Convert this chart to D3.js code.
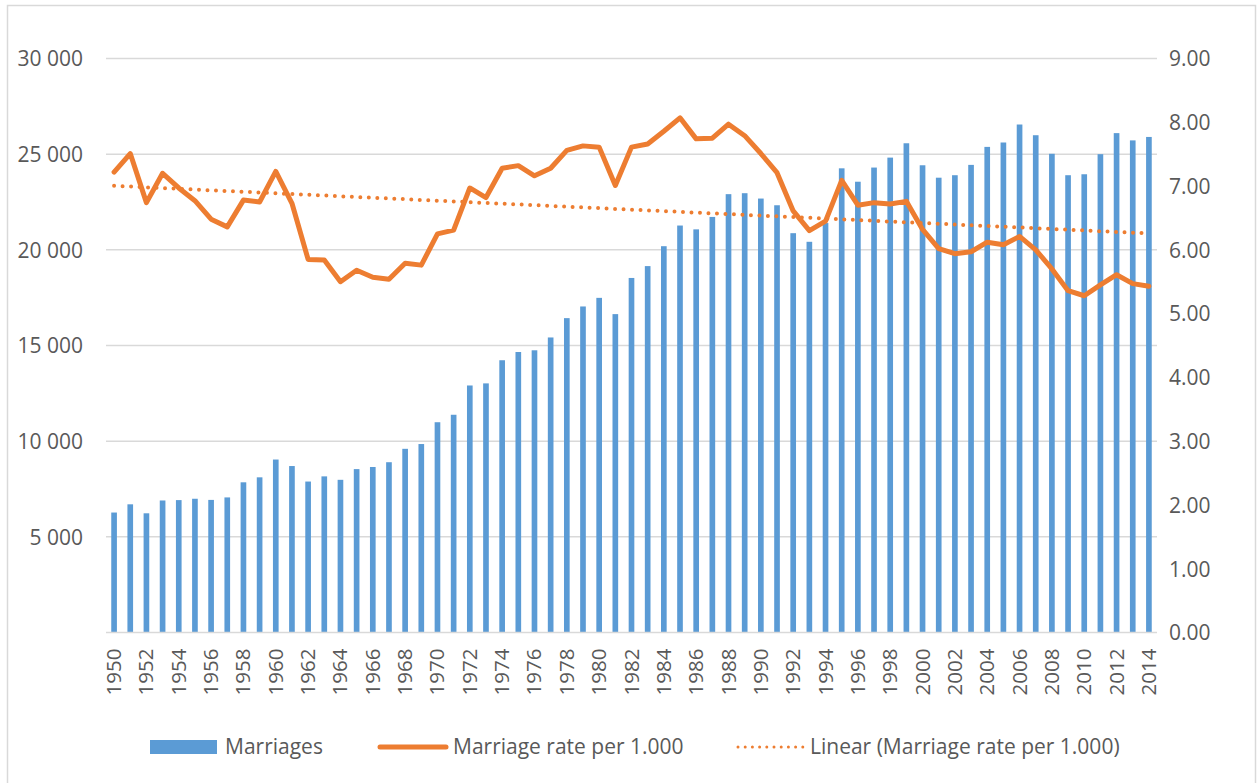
<!DOCTYPE html>
<html>
<head>
<meta charset="utf-8">
<script src="https://cdn.jsdelivr.net/npm/d3@7"></script>
<style>
  body { margin: 0; background: #fff; }
  svg { display: block; font-family: "Open Sans", "Liberation Sans", sans-serif; }
</style>
</head>
<body>
<svg id="chart" width="1259" height="783"></svg>
<script>
// years 1950..2014
const years = d3.range(1950, 2015);

// number of marriages per year
const marriages = [
  6270, 6700, 6230, 6900, 6920, 6990, 6930, 7060, 7850, 8110,
  9040, 8700, 7890, 8160, 7980, 8540, 8650, 8900, 9600, 9850,
  10990, 11380, 12910, 13020, 14230, 14660, 14750, 15420, 16430, 17040,
  17490, 16640, 18530, 19150, 20190, 21270, 21070, 21720, 22910, 22960,
  22680, 22330, 20870, 20420, 21400, 24260, 23560, 24300, 24820, 25570,
  24420, 23770, 23900, 24440, 25380, 25610, 26550, 25990, 25020, 23900,
  23950, 25000, 26100, 25720, 25900
];

// marriage rate per 1.000 inhabitants
const rate = [
  7.22, 7.51, 6.74, 7.20, 6.97, 6.77, 6.48, 6.36, 6.78, 6.75,
  7.23, 6.73, 5.85, 5.84, 5.50, 5.68, 5.57, 5.54, 5.79, 5.76,
  6.25, 6.31, 6.97, 6.82, 7.28, 7.32, 7.16, 7.28, 7.56, 7.63,
  7.61, 7.01, 7.61, 7.66, 7.86, 8.07, 7.74, 7.75, 7.97, 7.79,
  7.51, 7.21, 6.61, 6.30, 6.45, 7.09, 6.70, 6.74, 6.72, 6.76,
  6.32, 6.02, 5.94, 5.97, 6.12, 6.08, 6.21, 6.00, 5.70, 5.36,
  5.28, 5.45, 5.61, 5.47, 5.43
];

const leftTicks = [5000, 10000, 15000, 20000, 25000, 30000];
const rightTicks = [0, 1, 2, 3, 4, 5, 6, 7, 8, 9];

const blue = "#5b9bd5";
const orange = "#ed7d31";
const grid = "#d9d9d9";
const textCol = "#595959";

const svg = d3.select("#chart");

// outer frame
svg.append("rect")
  .attr("x", 7.5).attr("y", 5.5)
  .attr("width", 1248).attr("height", 780)
  .attr("fill", "none").attr("stroke", grid).attr("stroke-width", 1.5);

const plot = { left: 106, right: 1157, top: 58.5, bottom: 632.5 };

const x = d3.scaleBand()
  .domain(years)
  .range([plot.left, plot.right])
  .paddingInner(0.65)
  .paddingOuter(0.325);

const yL = d3.scaleLinear().domain([0, 30000]).range([plot.bottom, plot.top]);
const yR = d3.scaleLinear().domain([0, 9]).range([plot.bottom, plot.top]);

// gridlines
svg.append("g")
  .selectAll("line")
  .data(leftTicks)
  .join("line")
  .attr("x1", plot.left).attr("x2", plot.right)
  .attr("y1", d => yL(d)).attr("y2", d => yL(d))
  .attr("stroke", grid).attr("stroke-width", 1.5);

// left axis
const leftAxis = svg.append("g")
  .attr("transform", `translate(${plot.left - 23},0)`)
  .call(d3.axisLeft(yL).tickValues(leftTicks).tickSize(0)
    .tickFormat(d => d3.format(",")(d).replace(",", " ")));
leftAxis.select(".domain").remove();
leftAxis.selectAll("text").attr("fill", textCol).attr("font-size", 21)
  .attr("font-family", "Open Sans").attr("x", 0).attr("dy", "0.35em");

// right axis
const rightAxis = svg.append("g")
  .attr("transform", `translate(${plot.right + 12},0)`)
  .call(d3.axisRight(yR).tickValues(rightTicks).tickSize(0).tickFormat(d3.format(".2f")));
rightAxis.select(".domain").remove();
rightAxis.selectAll("text").attr("fill", textCol).attr("font-size", 21)
  .attr("font-family", "Open Sans").attr("x", 0).attr("dy", "0.35em");

// bars
svg.append("g")
  .selectAll("rect")
  .data(years)
  .join("rect")
  .attr("x", (d) => x(d))
  .attr("width", x.bandwidth())
  .attr("y", (d, i) => yL(marriages[i]))
  .attr("height", (d, i) => yL(0) - yL(marriages[i]))
  .attr("fill", blue);

// baseline
svg.append("line")
  .attr("x1", plot.left).attr("x2", plot.right)
  .attr("y1", plot.bottom).attr("y2", plot.bottom)
  .attr("stroke", grid).attr("stroke-width", 1.5);

// year labels (every second year)
svg.append("g")
  .selectAll("text")
  .data(years.filter(y => y % 2 === 0))
  .join("text")
  .attr("transform", d => `translate(${x(d) + x.bandwidth() / 2 + 7},${plot.bottom + 16}) rotate(-90)`)
  .attr("text-anchor", "end")
  .attr("fill", textCol)
  .attr("font-size", 20.5)
  .text(d => d);

const cx = d => x(d) + x.bandwidth() / 2;

// linear trendline (least squares on the rate series)
const n = years.length;
const mx = d3.mean(years), my = d3.mean(rate);
const slope = d3.sum(years, (yr, i) => (yr - mx) * (rate[i] - my)) /
              d3.sum(years, yr => (yr - mx) ** 2);
const icpt = my - slope * mx;
const trend = [years[0], years[n - 1]];

svg.append("path")
  .datum(trend)
  .attr("d", d3.line().x(cx).y(yr => yR(icpt + slope * yr)))
  .attr("fill", "none")
  .attr("stroke", orange)
  .attr("stroke-width", 4)
  .attr("stroke-linecap", "round")
  .attr("stroke-dasharray", "0 8.5");

// rate line
svg.append("path")
  .datum(years)
  .attr("d", d3.line().x(cx).y((d, i) => yR(rate[i])))
  .attr("fill", "none")
  .attr("stroke", orange)
  .attr("stroke-width", 5)
  .attr("stroke-linejoin", "round")
  .attr("stroke-linecap", "round");

// legend
const lg = svg.append("g").attr("font-size", 21).attr("fill", textCol);
const ly = 747;

lg.append("rect").attr("x", 150).attr("y", ly - 7).attr("width", 67).attr("height", 14).attr("fill", blue);
lg.append("text").attr("x", 225).attr("y", ly).attr("dy", "0.35em").text("Marriages");

lg.append("line").attr("x1", 380).attr("x2", 446).attr("y1", ly).attr("y2", ly)
  .attr("stroke", orange).attr("stroke-width", 5).attr("stroke-linecap", "round");
lg.append("text").attr("x", 453).attr("y", ly).attr("dy", "0.35em").text("Marriage rate per 1.000");

lg.append("line").attr("x1", 738).attr("x2", 803).attr("y1", ly).attr("y2", ly)
  .attr("stroke", orange).attr("stroke-width", 3).attr("stroke-linecap", "round")
  .attr("stroke-dasharray", "0 7.2");
lg.append("text").attr("x", 810).attr("y", ly).attr("dy", "0.35em").text("Linear (Marriage rate per 1.000)");
</script>
</body>
</html>
